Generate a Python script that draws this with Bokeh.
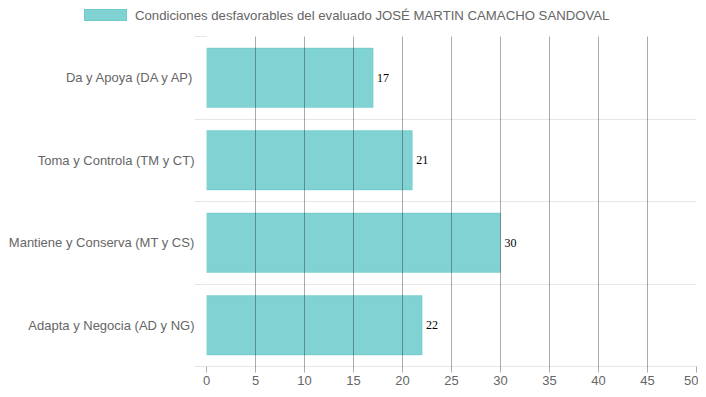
from bokeh.plotting import figure
from bokeh.layouts import column
from bokeh.models import ColumnDataSource, FixedTicker, Range1d, Div
from bokeh.core.properties import value
from bokeh.embed import file_html
from bokeh.resources import INLINE

categories = ["Da y Apoya (DA y AP)", "Toma y Controla (TM y CT)",
              "Mantiene y Conserva (MT y CS)", "Adapta y Negocia (AD y NG)"]
values = [17, 21, 30, 22]
series_name = "Condiciones desfavorables del evaluado JOSÉ MARTIN CAMACHO SANDOVAL"
x_ticks = [0, 5, 10, 15, 20, 25, 30, 35, 40, 45, 50]

n = len(categories)
ypos = [n - 1 - i for i in range(n)]
src = ColumnDataSource(dict(y=ypos, v=values, lab=[str(v) for v in values], cat=categories))

FONT = "Liberation Sans"

p = figure(width=698, height=353, output_backend="svg", toolbar_location=None,
           x_range=Range1d(0, 50), y_range=Range1d(-0.5, n - 0.5),
           min_border_left=206, min_border_right=2, min_border_top=0, min_border_bottom=23)
p.outline_line_color = None

p.hbar(y="y", right="v", left=0, height=0.72, source=src,
       fill_color="#4bc0c0", fill_alpha=0.7, line_color="#4bc0c0", line_alpha=0.35, line_width=1)

p.text(x="v", y="y", text="lab", source=src, x_offset=4,
       text_baseline="middle", text_align="left", text_font=value("Liberation Serif"),
       text_font_size="12px", text_color="#000000")

# x axis
p.xaxis.ticker = FixedTicker(ticks=x_ticks)
p.xaxis.axis_line_color = "#e6e6e6"
p.xaxis.major_tick_line_color = "#000000"
p.xaxis.major_tick_line_alpha = 0.33
p.xaxis.major_tick_out = 6
p.xaxis.major_tick_in = 0
p.xaxis.minor_tick_line_color = None
p.xaxis.major_label_text_font = FONT
p.xaxis.major_label_text_font_size = "13px"
p.xaxis.major_label_text_color = "#666666"
p.xaxis.major_label_standoff = 3

# y axis
yt = FixedTicker(ticks=ypos, minor_ticks=[i - 0.5 for i in range(n + 1)])
p.yaxis.ticker = yt
p.yaxis.major_label_overrides = {y: c for y, c in zip(ypos, categories)}
p.yaxis.axis_line_color = None
p.yaxis.major_tick_line_color = None
p.yaxis.major_tick_out = 0
p.yaxis.minor_tick_line_color = "#e6e6e6"
p.yaxis.minor_tick_out = 12
p.yaxis.minor_tick_in = 0
p.yaxis.major_label_text_font = FONT
p.yaxis.major_label_text_font_size = "13px"
p.yaxis.major_label_text_color = "#666666"
p.yaxis.major_label_standoff = 0

# grids
p.xgrid.ticker = FixedTicker(ticks=x_ticks)
p.xgrid.grid_line_color = "#000000"
p.xgrid.grid_line_alpha = 0.33
p.xgrid.level = "overlay"
p.ygrid.ticker = yt
p.ygrid.grid_line_color = None
p.ygrid.minor_grid_line_color = "#e6e6e6"

legend_html = (
    '<div style="position:relative;width:698px;height:36px;">'
    '<div style="position:absolute;left:84px;top:9px;width:43px;height:12px;'
    'background:rgba(75,192,192,0.7);border:1px solid rgba(75,192,192,0.35);"></div>'
    '<div style="position:absolute;left:135px;top:8px;font-family:\'Liberation Sans\';'
    'font-size:13.2px;line-height:15px;color:#666666;white-space:nowrap;">'
    + series_name + '</div></div>'
)
lg = Div(text=legend_html, width=698, height=36, margin=0)

open("out.html", "w").write(file_html(column(lg, p, spacing=0), INLINE))
